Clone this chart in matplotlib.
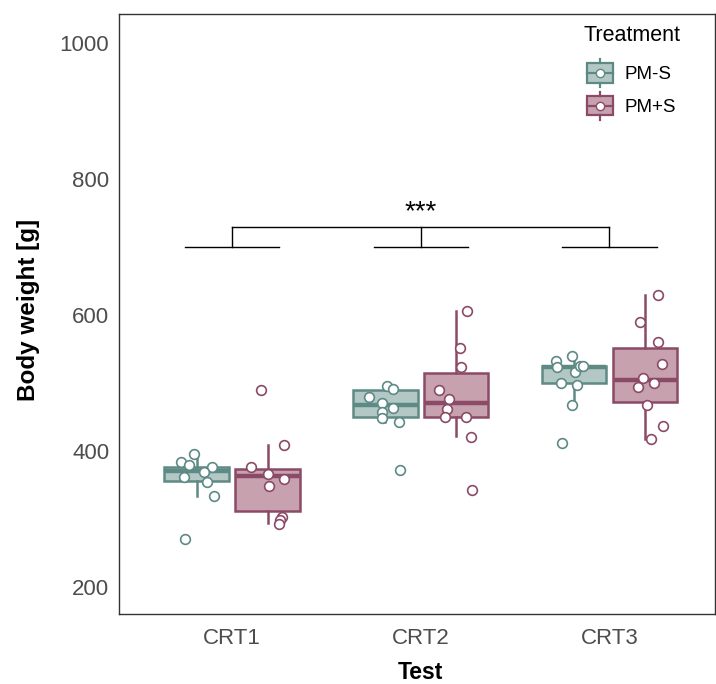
import matplotlib.pyplot as plt
import numpy as np
from matplotlib.patches import Rectangle
from matplotlib.lines import Line2D
from matplotlib.legend_handler import HandlerBase

plt.rcParams['font.family'] = ['Liberation Sans', 'DejaVu Sans']

tests = ['CRT1', 'CRT2', 'CRT3']
groups = ['PM-S', 'PM+S']
edge_col = {'PM-S': '#5E8A86', 'PM+S': '#8B4A66'}
fill_col = {'PM-S': '#B3C8C5', 'PM+S': '#C8A1AF'}

#### BOX STATS
pms_q1 = [355, 450, 500]
pms_med = [371, 467, 523]
pms_q3 = [377, 489, 525]
pms_wlo = [334, 443, 469]
pms_whi = [395, 496, 540]

pps_q1 = [312, 450, 472]
pps_med = [363, 470, 505]
pps_q3 = [374, 514, 552]
pps_wlo = [294, 422, 417]
pps_whi = [408, 606, 629]

#### INDIVIDUAL ANIMALS (value, jitter offset)
pms_crt1 = [384, 396, 379, 377, 369, 362, 354, 333, 271]
pms_crt1_jit = [-0.084, -0.014, -0.042, 0.079, 0.039, -0.065, 0.057, 0.092, -0.063]
pms_crt2 = [496, 491, 480, 470, 463, 458, 448, 443, 372]
pms_crt2_jit = [0.010, 0.041, -0.088, -0.017, 0.041, -0.017, -0.020, 0.073, 0.077]
pms_crt3 = [532, 524, 540, 516, 525, 525, 500, 497, 468, 411]
pms_crt3_jit = [-0.096, -0.090, -0.011, 0.007, 0.032, 0.048, -0.071, 0.018, -0.009, -0.062]

pps_crt1 = [490, 408, 377, 366, 359, 348, 303, 299, 293]
pps_crt1_jit = [-0.036, 0.085, -0.089, 0.002, 0.088, 0.007, 0.074, 0.067, 0.058]
pps_crt2 = [606, 552, 523, 489, 477, 462, 450, 450, 421, 343]
pps_crt2_jit = [0.057, 0.018, 0.027, -0.092, -0.037, -0.049, -0.062, 0.053, 0.078, 0.085]
pps_crt3 = [629, 590, 561, 528, 508, 500, 494, 467, 436, 417]
pps_crt3_jit = [0.069, -0.024, 0.069, 0.089, -0.008, 0.050, -0.037, 0.014, 0.096, 0.032]

box_stats = {
    'PM-S': (pms_q1, pms_med, pms_q3, pms_wlo, pms_whi),
    'PM+S': (pps_q1, pps_med, pps_q3, pps_wlo, pps_whi),
}
points = {
    'PM-S': [(pms_crt1, pms_crt1_jit), (pms_crt2, pms_crt2_jit), (pms_crt3, pms_crt3_jit)],
    'PM+S': [(pps_crt1, pps_crt1_jit), (pps_crt2, pps_crt2_jit), (pps_crt3, pps_crt3_jit)],
}

sig_label = '***'
bracket_low = 700
bracket_high = 730


class BoxKey(HandlerBase):
    # legend key that looks like a little boxplot with a point on it
    def create_artists(self, legend, orig_handle, xdescent, ydescent,
                       width, height, fontsize, trans):
        ec = orig_handle.get_edgecolor()
        fc = orig_handle.get_facecolor()
        x0, y0 = -xdescent, -ydescent
        xm, ym = x0 + width / 2, y0 + height / 2
        box = Rectangle((x0, y0 + 0.16 * height), width, 0.68 * height,
                        facecolor=fc, edgecolor=ec, lw=1.6, transform=trans)
        med = Line2D([x0, x0 + width], [ym, ym], color=ec, lw=1.6, transform=trans)
        wt = Line2D([xm, xm], [y0 + 0.84 * height, y0 + height], color=ec, lw=1.6, transform=trans)
        wb = Line2D([xm, xm], [y0, y0 + 0.16 * height], color=ec, lw=1.6, transform=trans)
        dot = Line2D([xm], [ym], marker='o', ms=6, mfc='white', mec=ec, mew=1.0,
                     linestyle='none', transform=trans)
        return [box, med, wt, wb, dot]


fig = plt.figure(figsize=(7.16, 6.84), dpi=100)
ax = fig.add_axes([119 / 716, 1 - 614 / 684, 596 / 716, 600 / 684])

x = np.arange(1, len(tests) + 1)
dodge = 0.188
width = 0.342

for k, g in enumerate(groups):
    off = -dodge if k == 0 else dodge
    q1, med, q3, wlo, whi = box_stats[g]
    stats = [dict(q1=q1[i], med=med[i], q3=q3[i], whislo=wlo[i], whishi=whi[i])
             for i in range(len(tests))]
    ax.bxp(stats, positions=x + off, widths=width, patch_artist=True,
           showcaps=False, showfliers=False,
           boxprops=dict(facecolor=fill_col[g], edgecolor=edge_col[g], linewidth=1.8),
           whiskerprops=dict(color=edge_col[g], linewidth=1.8),
           medianprops=dict(color=edge_col[g], linewidth=3.2, solid_capstyle='butt'),
           zorder=2)
    for i, (vals, jit) in enumerate(points[g]):
        ax.plot(x[i] + off + np.array(jit), vals, 'o', ms=7, mfc='white',
                mec=edge_col[g], mew=1.2, zorder=3)

# significance bracket
for xi in x:
    ax.plot([xi - 0.25, xi + 0.25], [bracket_low, bracket_low], color='black', lw=1.0)
    ax.plot([xi, xi], [bracket_low, bracket_high], color='black', lw=1.0)
ax.plot([x[0], x[-1]], [bracket_high, bracket_high], color='black', lw=1.0)
ax.text(x[1], 741, sig_label, ha='center', va='baseline', fontsize=20)

ax.set_xlim(0.4, 3.56)
ax.set_ylim(160, 1043)
ax.set_xticks(x)
ax.set_xticklabels(tests)
ax.set_yticks([200, 400, 600, 800, 1000])
ax.tick_params(length=0, labelsize=16, labelcolor='#4D4D4D')
ax.tick_params(axis='x', pad=10)
ax.tick_params(axis='y', pad=7)
for s in ax.spines.values():
    s.set_color('#333333')
    s.set_linewidth(1.0)
ax.set_xlabel('Test', fontsize=16.5, fontweight='bold')
ax.set_ylabel('Body weight [g]', fontsize=17.5, fontweight='bold')
ax.xaxis.set_label_coords(0.506, -0.079)
ax.yaxis.set_label_coords(-0.133, 0.507)

# legend: title as its own text so the gap below it can be set
fig.text(583 / 716, 1 - 25 / 684, 'Treatment', ha='left', va='top', fontsize=15.5)
handles = [Rectangle((0, 0), 1, 1, facecolor=fill_col[g], edgecolor=edge_col[g], label=g)
           for g in groups]
leg = ax.legend(handles=handles, handler_map={Rectangle: BoxKey()},
                loc='upper left', bbox_to_anchor=(587 / 716, 1 - 59 / 684),
                bbox_transform=fig.transFigure, frameon=False, fontsize=13.5,
                handlelength=1.39, handleheight=1.92,
                handletextpad=0.6, labelspacing=0.25, borderpad=0, borderaxespad=0)

fig.savefig('out.png', dpi=100)
